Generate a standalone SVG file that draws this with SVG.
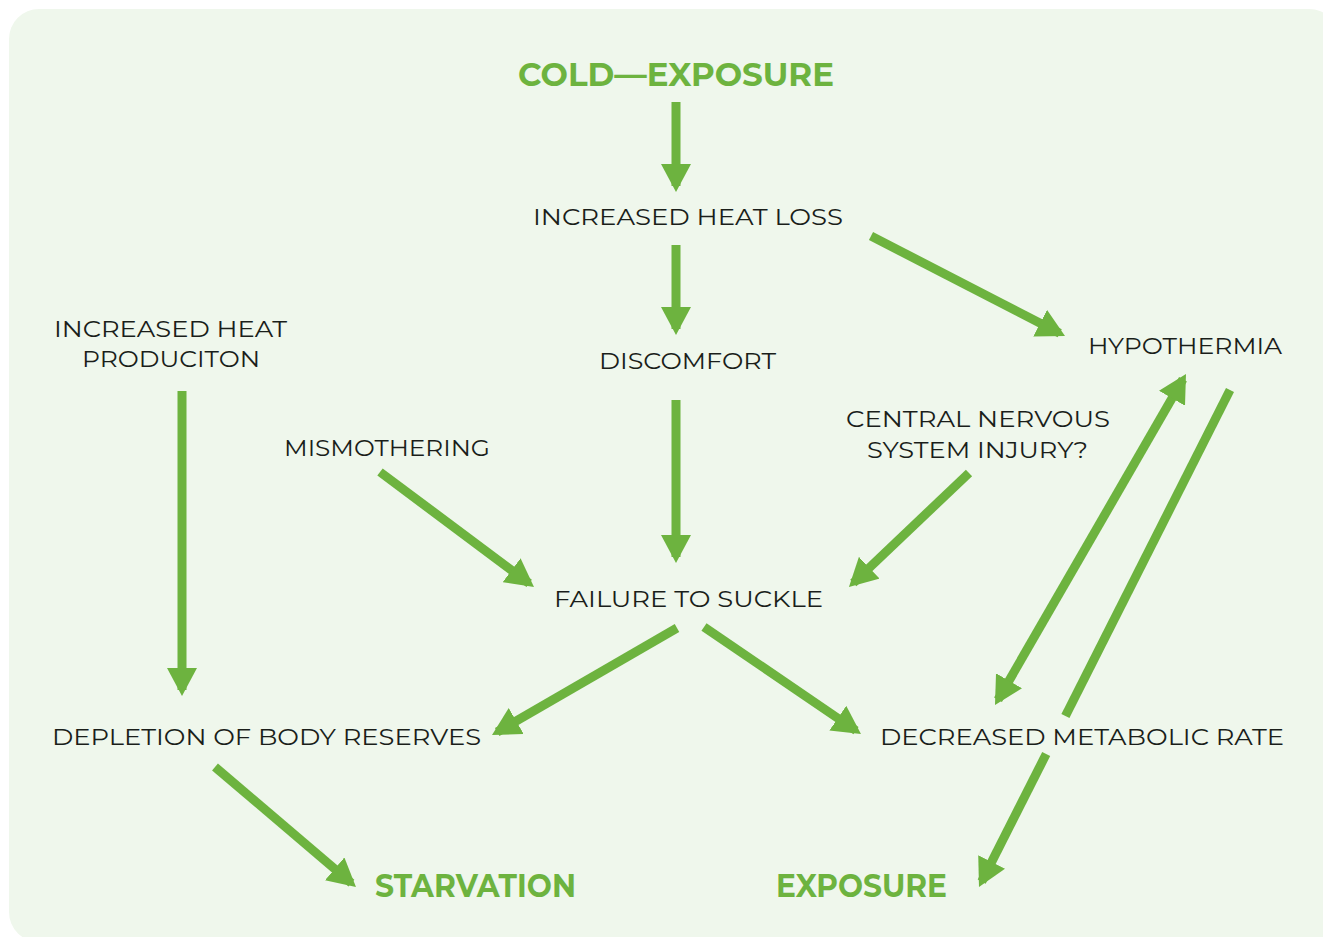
<svg xmlns="http://www.w3.org/2000/svg" width="1323" height="937" viewBox="0 0 1323 937">
<style>
.bg{fill:#eff7ec}
.t{font-family:"Montserrat","Noto Sans","Liberation Sans",sans-serif;font-size:23px;fill:#1a1e1a;text-anchor:middle}
.h{font-family:"Montserrat","Noto Sans","Liberation Sans",sans-serif;font-size:32px;font-weight:bold;fill:#6db33f;text-anchor:middle}
.c line{stroke:#6db33f;stroke-width:9;fill:none}
.a{marker-end:url(#ah)}
</style>
<defs>
<marker id="ah" markerUnits="userSpaceOnUse" markerWidth="28" markerHeight="30" refX="22" refY="15" orient="auto-start-reverse">
<path d="M0,0 L28,15 L0,30 z" fill="#6db33f"/>
</marker>
</defs>
<rect class="bg" x="9" y="9" width="1330" height="933" rx="30"/>
<g id="cold-exposure"><text class="h" x="676" y="86" textLength="316" lengthAdjust="spacingAndGlyphs">COLD—EXPOSURE</text></g>
<g id="increased-heat-loss"><text class="t" x="688" y="225" textLength="310" lengthAdjust="spacingAndGlyphs">INCREASED HEAT LOSS</text></g>
<g id="discomfort"><text class="t" x="687.5" y="369" textLength="177" lengthAdjust="spacingAndGlyphs">DISCOMFORT</text></g>
<g id="hypothermia"><text class="t" x="1185" y="354" textLength="194" lengthAdjust="spacingAndGlyphs">HYPOTHERMIA</text></g>
<g id="increased-heat-production"><text class="t" x="170.5" y="337" textLength="233" lengthAdjust="spacingAndGlyphs">INCREASED HEAT</text><text class="t" x="171" y="367" textLength="178" lengthAdjust="spacingAndGlyphs">PRODUCITON</text></g>
<g id="mismothering"><text class="t" x="387" y="456" textLength="206" lengthAdjust="spacingAndGlyphs">MISMOTHERING</text></g>
<g id="cns-injury"><text class="t" x="978" y="427" textLength="264" lengthAdjust="spacingAndGlyphs">CENTRAL NERVOUS</text><text class="t" x="977.5" y="458" textLength="221" lengthAdjust="spacingAndGlyphs">SYSTEM INJURY?</text></g>
<g id="failure-to-suckle"><text class="t" x="688.5" y="607" textLength="269" lengthAdjust="spacingAndGlyphs">FAILURE TO SUCKLE</text></g>
<g id="depletion"><text class="t" x="266.5" y="745" textLength="429" lengthAdjust="spacingAndGlyphs">DEPLETION OF BODY RESERVES</text></g>
<g id="decreased-metabolic-rate"><text class="t" x="1082" y="745" textLength="404" lengthAdjust="spacingAndGlyphs">DECREASED METABOLIC RATE</text></g>
<g id="starvation"><text class="h" x="475.5" y="897" textLength="201" lengthAdjust="spacingAndGlyphs">STARVATION</text></g>
<g id="exposure"><text class="h" x="861.5" y="897" textLength="171" lengthAdjust="spacingAndGlyphs">EXPOSURE</text></g>
<g id="connectors" class="c">
<line class="a" x1="676" y1="102" x2="676" y2="186"/>
<line class="a" x1="676" y1="245" x2="676" y2="329"/>
<line class="a" x1="676" y1="400" x2="676" y2="557"/>
<line class="a" x1="871" y1="236" x2="1059.7" y2="333.3"/>
<line class="a" x1="182" y1="391" x2="182" y2="690"/>
<line class="a" x1="380" y1="472" x2="529.2" y2="583.4"/>
<line class="a" x1="969" y1="473" x2="853.3" y2="582.9"/>
<line class="a" x1="998" y1="699.8" x2="1183" y2="379.2" marker-start="url(#ah)"/>
<line x1="1230" y1="390" x2="1065.4" y2="716"/>
<line class="a" x1="1046.2" y1="754" x2="981.7" y2="881.6"/>
<line class="a" x1="677" y1="628" x2="497.2" y2="732"/>
<line class="a" x1="704" y1="627" x2="856" y2="730.6"/>
<line class="a" x1="215" y1="767" x2="351.4" y2="883.1"/>
</g>
</svg>
